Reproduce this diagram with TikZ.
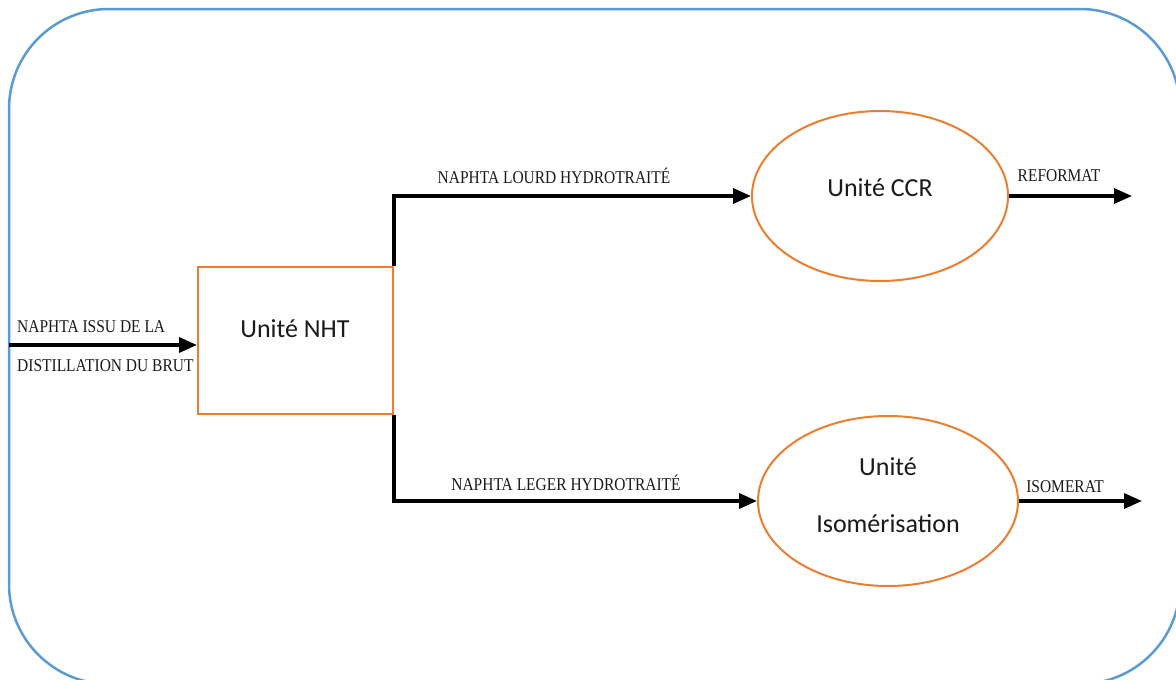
\documentclass[tikz,border=0pt]{standalone}
\usepackage{fontspec}
\usetikzlibrary{arrows.meta,shapes.geometric}
\newfontfamily\labfont[FakeStretch=0.86]{Liberation Serif}
\newfontfamily\unitfont{Carlito}
\definecolor{frameblue}{HTML}{5B9BD5}
\definecolor{unitorange}{HTML}{ED7D31}
\definecolor{unittext}{HTML}{1A1A1A}
\tikzset{
  frame/.style={draw=frameblue, line width=2.5pt, rounded corners=100pt},
  unitbox/.style={draw=unitorange, line width=2pt, inner sep=0pt},
  unitoval/.style={ellipse, draw=unitorange, line width=2pt, inner sep=0pt},
  unitlabel/.style={font=\unitfont\fontsize{26}{30}\selectfont, text=unittext, inner sep=0pt, anchor=base},
  flowlabel/.style={font=\labfont\fontsize{18}{21}\selectfont, text=unittext, inner sep=0pt, anchor=base},
  flow/.style={line width=3.5pt, -{Triangle[length=18pt,width=15pt]}},
}
\begin{document}
\begin{tikzpicture}[x=1pt,y=-1pt]
\useasboundingbox (0,0) rectangle (1176,680);
\draw[frame] (9,9) rectangle (1180,684);

% units
\node[unitbox, minimum width=195pt, minimum height=147pt] (nht) at (295.5,340.5) {};
\node[unitoval, minimum width=256pt, minimum height=170pt] (ccr) at (880,196) {};
\node[unitoval, minimum width=260pt, minimum height=170pt] (iso) at (888,501) {};

\node[unitlabel] (nhttxt) at (295,337) {Unité NHT};
\node[unitlabel] (ccrtxt) at (880,196) {Unité CCR};
\node[unitlabel] (isotxt1) at (888,475) {Unité};
\node[unitlabel] (isotxt2) at (888,532) {Isomérisation};

% free ends
\coordinate (feed) at (9,345);
\coordinate (out1) at (1132,196);
\coordinate (out2) at (1142,501);

% connectors
\draw[flow] (feed) -- (feed -| nht.west);
\draw[flow] (nht.north east) |- (ccr.west);
\draw[flow] (nht.south east) |- (iso.west);
\draw[flow] (ccr.east) -- (out1);
\draw[flow] (iso.east) -- (out2);

% flow labels
\node[flowlabel, anchor=base west] (l1) at (17,332) {NAPHTA ISSU DE LA};
\node[flowlabel, anchor=base west] (l2) at (17,371) {DISTILLATION DU BRUT};
\node[flowlabel] (l3) at (554,183) {NAPHTA LOURD HYDROTRAITÉ};
\node[flowlabel] (l4) at (566,490) {NAPHTA LEGER HYDROTRAITÉ};
\node[flowlabel] (l5) at (1059,181) {REFORMAT};
\node[flowlabel] (l6) at (1065,492) {ISOMERAT};
\end{tikzpicture}
\end{document}
